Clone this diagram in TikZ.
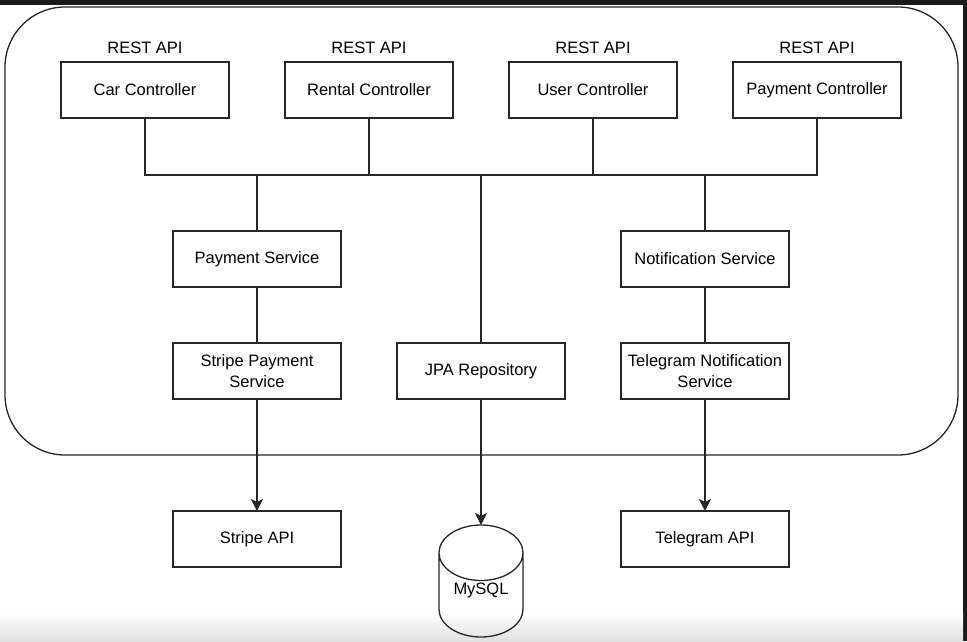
\documentclass[tikz,border=0pt]{standalone}
\usepackage{fontspec}
\setmainfont{Liberation Sans}
\usetikzlibrary{positioning,shapes.geometric,arrows.meta}

\begin{document}
\begin{tikzpicture}[
        x=1pt, y=-1pt,
        every node/.style={font=\fontsize{16.5}{21}\selectfont, text=black},
        box/.style={rectangle, draw=black!85, line width=1.3pt, fill=white, outer sep=0pt, minimum width=168pt, minimum height=56pt, align=center},
        apilabel/.style={inner sep=0pt},
        wire/.style={draw=black!85, line width=1.3pt},
        arrow/.style={wire, -{Stealth[length=12pt, width=12pt, inset=3pt]}},
        store/.style={cylinder, shape border rotate=90, draw=black!85, line width=1.3pt, outer sep=0pt, aspect=0.9, text width=55pt, minimum width=84pt, minimum height=112pt},
    ]
    % screen frame
    \fill[black!90] (0,0) rectangle (967,641);
    \fill[white] (0,5) rectangle (963,641);
    \shade[top color=white, bottom color=black!12] (0,612) rectangle (963,641);
    \useasboundingbox (0,0) rectangle (967,641);

    % application boundary
    \draw[wire, rounded corners=60pt] (5,7) rectangle (958,455);

    \node[box] (car)                          at (145,90) {Car Controller};
    \node[box] (rental)     [right=56pt of car]           {Rental Controller};
    \node[box] (user)       [right=56pt of rental]        {User Controller};
    \node[box] (paycontrol) [right=56pt of user]          {Payment Controller};

    \foreach \c in {car, rental, user, paycontrol}
        \node[apilabel, above=8pt of \c] {REST API};

    \node[box] (paysvc)      at (257,259)               {Payment Service};
    \node[box] (notifysvc)   at (705,259)               {Notification Service};
    \node[box] (stripesvc)   [below=56pt of paysvc]     {Stripe Payment\\Service};
    \node[box] (telegramsvc) [below=56pt of notifysvc]  {Telegram Notification\\Service};
    \node[box] (jpa)         at (481,371)               {JPA Repository};

    \node[box] (stripeapi)   [below=112pt of stripesvc]   {Stripe API};
    \node[box] (telegramapi) [below=112pt of telegramsvc] {Telegram API};
    \node[store, label={[name=mysqltext, yshift=10pt]center:MySQL}] (mysql) [below=126pt of jpa] {};

    \coordinate (bus) at (481,175);
    \draw[wire] (car.south) |- (bus) -| (paycontrol.south);
    \draw[wire] (rental.south) -- (rental.south |- bus);
    \draw[wire] (user.south) -- (user.south |- bus);
    \draw[wire] (paysvc.north) -- (paysvc.north |- bus);
    \draw[wire] (notifysvc.north) -- (notifysvc.north |- bus);
    \draw[wire] (bus) -- (jpa.north);
    \draw[wire] (paysvc) -- (stripesvc);
    \draw[wire] (notifysvc) -- (telegramsvc);

    \draw[arrow] (stripesvc) -- (stripeapi);
    \draw[arrow] (telegramsvc) -- (telegramapi);
    \draw[arrow] (jpa) -- (mysql.north);
\end{tikzpicture}
\end{document}
